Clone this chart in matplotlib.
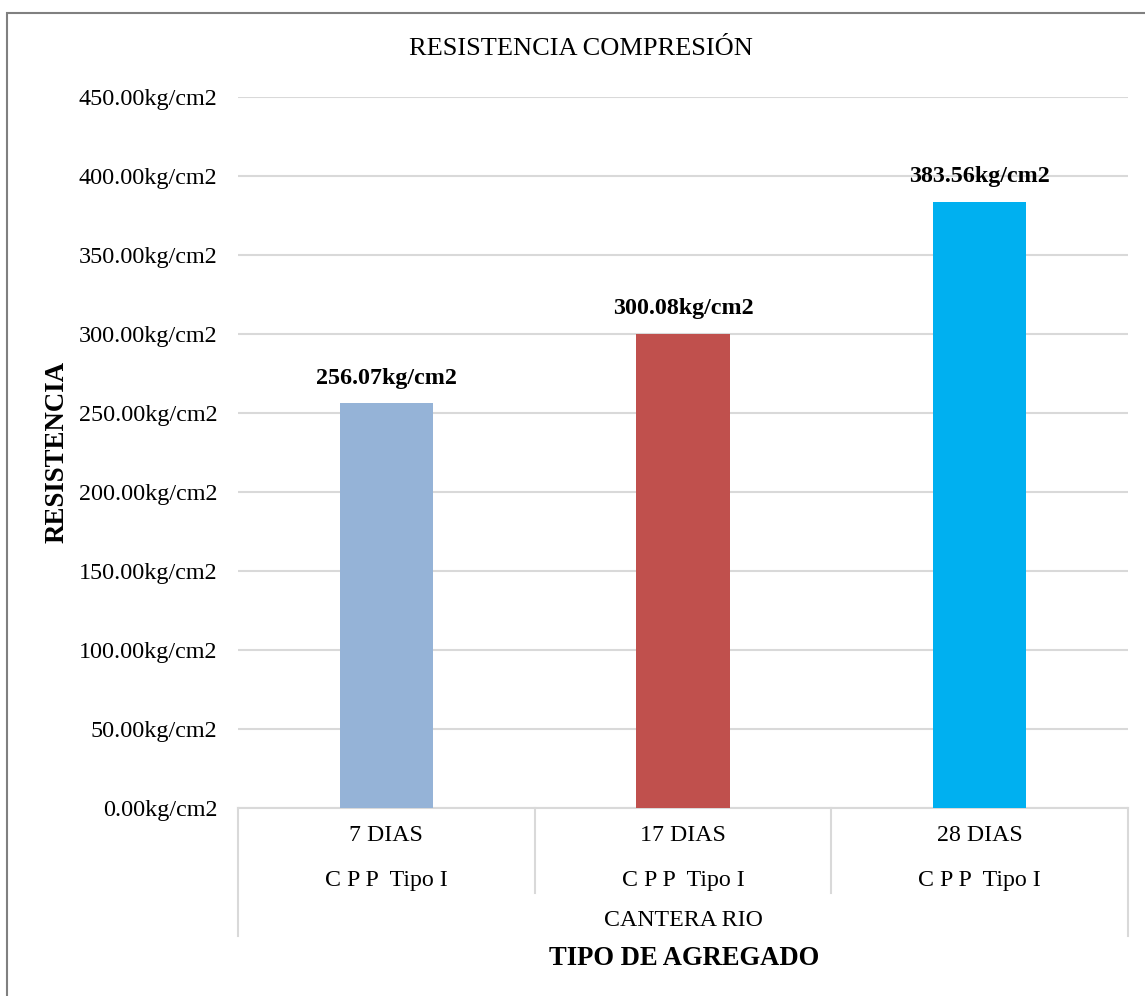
import matplotlib.pyplot as plt
import matplotlib.transforms as mtransforms

plt.rcParams['font.family'] = ['Liberation Serif', 'DejaVu Serif']

dias = ['7 DIAS', '17 DIAS', '28 DIAS']
cemento = ['C P P  Tipo I', 'C P P  Tipo I', 'C P P  Tipo I']
cantera = 'CANTERA RIO'
resistencia = [256.07, 300.08, 383.56]
colores = ['#95B3D7', '#C0504D', '#00B0F0']
yticks = [0, 50, 100, 150, 200, 250, 300, 350, 400, 450]

W, H = 1145, 996
fig = plt.figure(figsize=(W / 100, H / 100), dpi=100)

# chart frame
fig.patches.append(plt.Rectangle((7 / W, -0.1), 1.2, 1 - 13 / H + 0.1,
                                 transform=fig.transFigure, fill=False,
                                 edgecolor='#808080', linewidth=1.5))

left, right, top, bottom = 238, 1128, 96.7, 808
ax = fig.add_axes([left / W, 1 - bottom / H, (right - left) / W, (bottom - top) / H])

x = list(range(len(dias)))
ax.bar(x, resistencia, width=0.315, color=colores, zorder=3)
for xi, v in zip(x, resistencia):
    ax.annotate(f'{v:.2f}kg/cm2', (xi, v), xytext=(0, 18), textcoords='offset points',
                ha='center', va='center', fontsize=17.3, fontweight='bold')

ax.set_xlim(-0.5, 2.5)
ax.set_ylim(0, 450)
ax.set_yticks(yticks)
ax.set_yticklabels([f'{t:.2f}kg/cm2' for t in yticks])
ax.tick_params(axis='y', length=0, pad=15, labelsize=17.4)
ax.set_xticks([])
ax.grid(axis='y', color='#D9D9D9', linewidth=1.5, zorder=0)
for s in ['top', 'right', 'left']:
    ax.spines[s].set_visible(False)
ax.spines['bottom'].set_color('#D9D9D9')
ax.spines['bottom'].set_linewidth(1.5)

# two-level category axis
tr = mtransforms.blended_transform_factory(ax.transData, fig.transFigure)
def fy(py):
    return 1 - py / H
for b in [-0.5, 0.5, 1.5, 2.5]:
    y_end = 936 if b in (-0.5, 2.5) else 893
    ax.plot([b, b], [fy(bottom), fy(y_end)], transform=tr, color='#D9D9D9',
            linewidth=1.5, clip_on=False)
for xi, d, c in zip(x, dias, cemento):
    ax.text(xi, fy(835), d, transform=tr, ha='center', va='center', fontsize=17.2)
    ax.text(xi, fy(880), c, transform=tr, ha='center', va='center', fontsize=17.2)
ax.text(1, fy(920), cantera, transform=tr, ha='center', va='center', fontsize=17.2)

fig.text(684 / W, fy(958), 'TIPO DE AGREGADO', ha='center', va='center',
         fontsize=19.2, fontweight='bold')
fig.text(57 / W, fy(452), 'RESISTENCIA', ha='center', va='center', rotation=90,
         fontsize=19.4, fontweight='bold')
fig.text(581 / W, fy(49), 'RESISTENCIA COMPRESIÓN', ha='center', va='center', fontsize=19)

fig.savefig('out.png', dpi=100)
